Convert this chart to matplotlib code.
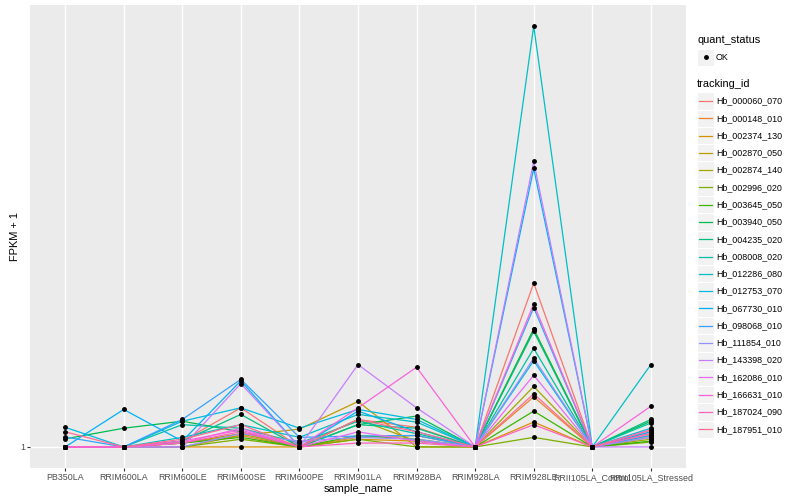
import matplotlib
matplotlib.use('Agg')
import matplotlib.pyplot as plt
import numpy as np
from matplotlib import rcParams
from matplotlib.patches import Rectangle

rcParams['font.family'] = ['Liberation Sans', 'DejaVu Sans']

samples = ['PB350LA', 'RRIM600LA', 'RRIM600LE', 'RRIM600SE', 'RRIM600PE', 'RRIM901LA',
           'RRIM928BA', 'RRIM928LA', 'RRIM928LE', 'RRII105LA_Control', 'RRII105LA_Stressed']

tracking_ids = ['Hb_000060_070', 'Hb_000148_010', 'Hb_002374_130', 'Hb_002870_050',
                'Hb_002874_140', 'Hb_002996_020', 'Hb_003645_050', 'Hb_003940_050',
                'Hb_004235_020', 'Hb_008008_020', 'Hb_012286_080', 'Hb_012753_070',
                'Hb_067730_010', 'Hb_098068_010', 'Hb_111854_010', 'Hb_143398_020',
                'Hb_162086_010', 'Hb_166631_010', 'Hb_187024_090', 'Hb_187951_010']

# FPKM + 1, one list per tracking_id, in sample order
hb_000060_070 = [1.00, 1.00, 1.03, 1.22, 1.00, 1.15, 1.105, 1.00, 2.30, 1.00, 1.08]
hb_000148_010 = [1.00, 1.00, 1.02, 1.06, 1.00, 1.05, 1.06, 1.00, 1.29, 1.00, 1.07]
hb_002374_130 = [1.00, 1.00, 1.00, 1.00, 1.00, 1.04, 1.03, 1.00, 1.135, 1.00, 1.06]
hb_002870_050 = [1.00, 1.00, 1.00, 1.06, 1.095, 1.26, 1.00, 1.00, 1.82, 1.00, 1.05]
hb_002874_140 = [1.00, 1.00, 1.02, 1.07, 1.00, 1.15, 1.03, 1.00, 1.36, 1.00, 1.04]
hb_002996_020 = [1.00, 1.00, 1.00, 1.04, 1.00, 1.04, 1.00, 1.00, 1.05, 1.00, 1.025]
hb_003645_050 = [1.00, 1.00, 1.02, 1.05, 1.00, 1.06, 1.04, 1.00, 1.20, 1.00, 1.03]
hb_003940_050 = [1.042, 1.10, 1.14, 1.08, 1.00, 1.12, 1.17, 1.00, 1.82, 1.00, 1.14]
hb_004235_020 = [1.00, 1.00, 1.03, 1.18, 1.00, 1.12, 1.10, 1.00, 1.80, 1.00, 1.15]
hb_008008_020 = [1.00, 1.00, 1.12, 1.10, 1.02, 1.14, 1.07, 1.00, 1.65, 1.00, 1.13]
hb_012286_080 = [1.00, 1.00, 1.05, 1.12, 1.05, 1.18, 1.135, 1.00, 8.50, 1.00, 1.52]
hb_012753_070 = [1.105, 1.00, 1.14, 1.22, 1.10, 1.21, 1.15, 1.00, 1.55, 1.00, 1.10]
hb_067730_010 = [1.00, 1.21, 1.03, 1.40, 1.00, 1.20, 1.08, 1.00, 4.12, 1.00, 1.08]
hb_098068_010 = [1.052, 1.00, 1.15, 1.41, 1.05, 1.057, 1.06, 1.00, 2.03, 1.00, 1.06]
hb_111854_010 = [1.00, 1.00, 1.00, 1.07, 1.03, 1.05, 1.04, 1.00, 1.57, 1.00, 1.05]
hb_143398_020 = [1.00, 1.00, 1.00, 1.38, 1.00, 1.52, 1.22, 1.00, 4.27, 1.00, 1.00]
hb_162086_010 = [1.00, 1.00, 1.02, 1.10, 1.00, 1.08, 1.03, 1.00, 1.44, 1.00, 1.09]
hb_166631_010 = [1.00, 1.00, 1.03, 1.09, 1.00, 1.22, 1.50, 1.00, 2.07, 1.00, 1.23]
hb_187024_090 = [1.00, 1.00, 1.02, 1.08, 1.00, 1.02, 1.02, 1.00, 1.12, 1.00, 1.07]
hb_187951_010 = [1.08, 1.00, 1.04, 1.12, 1.00, 1.15, 1.08, 1.00, 1.31, 1.00, 1.09]

series = [hb_000060_070, hb_000148_010, hb_002374_130, hb_002870_050, hb_002874_140,
          hb_002996_020, hb_003645_050, hb_003940_050, hb_004235_020, hb_008008_020,
          hb_012286_080, hb_012753_070, hb_067730_010, hb_098068_010, hb_111854_010,
          hb_143398_020, hb_162086_010, hb_166631_010, hb_187024_090, hb_187951_010]

colors = ['#F8766D', '#EA8331', '#D89000', '#C09B00', '#A3A500', '#7CAE00', '#39B600',
          '#00BB4E', '#00BF7D', '#00C1A3', '#00BFC4', '#00BAE0', '#00B0F6', '#35A2FF',
          '#9590FF', '#C77CFF', '#E76BF3', '#FA62DB', '#FF62BC', '#FF6C91']

W, H = 800, 500
fig = plt.figure(figsize=(8, 5), dpi=100)
ax = fig.add_axes([30 / W, 32 / H, 656 / W, 463 / H])
ax.set_facecolor('#EBEBEB')
for s in ax.spines.values():
    s.set_visible(False)

x = np.arange(len(samples))
for vals, c in zip(series, colors):
    ax.plot(x, vals, color=c, lw=0.9, zorder=2)
for vals in series:
    ax.plot(x, vals, 'o', color='black', ms=2.5, zorder=3)

ax.set_yscale('log')
lo, hi = 0.0, np.log10(max(max(v) for v in series))
pad = 0.05 * (hi - lo)
ax.set_ylim(10 ** (lo - pad), 10 ** (hi + pad))
ax.set_xlim(-0.6, len(samples) - 1 + 0.6)
ax.yaxis.set_major_locator(matplotlib.ticker.FixedLocator([1]))
ax.yaxis.set_major_formatter(matplotlib.ticker.FixedFormatter(['1']))
ax.yaxis.set_minor_locator(matplotlib.ticker.NullLocator())
ax.set_xticks(x)
ax.set_xticklabels(samples)
ax.tick_params(axis='both', length=2.0, width=0.8, color='#333333',
               labelcolor='#4D4D4D', labelsize=6.4, pad=1.5)
ax.grid(True, color='white', lw=1.0)
ax.set_axisbelow(True)
ax.set_xlabel('sample_name', fontsize=7.9, labelpad=1.5)
ax.set_ylabel('FPKM + 1', fontsize=7.9, labelpad=0)

# legend drawn in pixel coordinates
lax = fig.add_axes([0, 0, 1, 1])
lax.set_xlim(0, W)
lax.set_ylim(H, 0)
lax.axis('off')

lax.text(697, 40, 'quant_status', fontsize=7.9, va='center', ha='left')
lax.add_patch(Rectangle((697, 48.5), 17, 17, facecolor='#F2F2F2', edgecolor='white', lw=0.8))
lax.plot([705.5], [57], 'o', color='black', ms=2.5)
lax.text(716, 57, 'OK', fontsize=6.4, va='center', ha='left')

lax.text(697, 84, 'tracking_id', fontsize=7.9, va='center', ha='left')
for i, (name, c) in enumerate(zip(tracking_ids, colors)):
    yc = 101 + i * 17.28
    lax.add_patch(Rectangle((697, yc - 8.64), 17.28, 17.28, facecolor='#F2F2F2',
                            edgecolor='white', lw=0.8))
    lax.plot([699, 712], [yc, yc], color=c, lw=0.9)
    lax.text(716, yc, name, fontsize=6.4, va='center', ha='left')

fig.savefig('out.png', dpi=100)
